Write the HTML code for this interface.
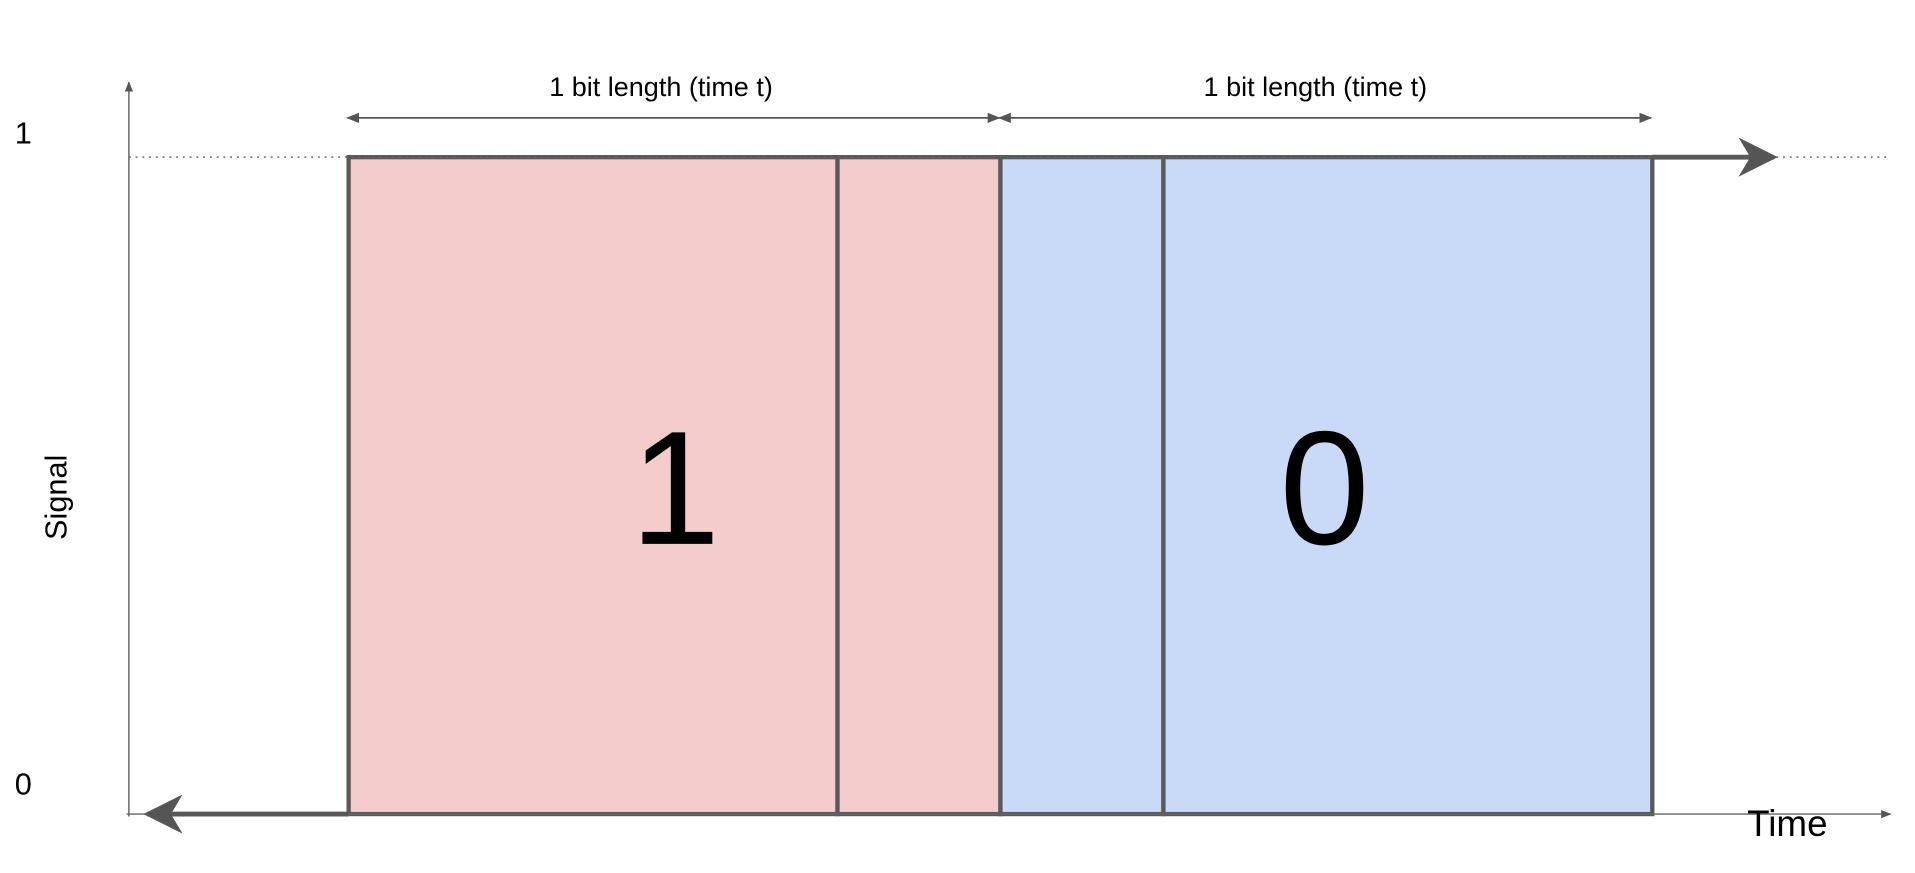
<!DOCTYPE html>
<html><head><meta charset="utf-8"><style>
html,body{margin:0;padding:0;background:#fff;width:1915px;height:873px;overflow:hidden}
svg{display:block}
text{font-family:"Liberation Sans",sans-serif}
</style></head><body>
<svg id="chart" width="1915" height="873" viewBox="0 0 1560 711" preserveAspectRatio="none" xmlns="http://www.w3.org/2000/svg">
<defs>
<marker id="ah" viewBox="0 0 10 10" refX="9" refY="5" markerWidth="8" markerHeight="8" orient="auto-start-reverse"><path d="M0,0 L10,5 L0,10 L3,5 z" fill="#555"/></marker>
<marker id="ahs" viewBox="0 0 10 10" refX="9" refY="5" markerWidth="7" markerHeight="7" orient="auto-start-reverse"><path d="M0,1 L10,5 L0,9 z" fill="#555"/></marker>
</defs>
<g id="plot"></g>
</svg>
<script>
// data
const bitValues = ["1", "0"];
const bitColors = ["#f4cccc", "#c9daf8"];
const segStarts = [0, 0.75, 1, 1.25];
const segEnds = [0.75, 1, 1.25, 2];
const segBit = [0, 0, 1, 1];
const yTickLabels = ["0", "1"];
const yTickValues = [0, 1];
const dimLabel = "1 bit length (time t)";

const NS = "http://www.w3.org/2000/svg";
const g = document.getElementById("plot");
const x = t => 284 + t * 531;
const y = v => 663 - v * 535;
function mk(tag, attrs, parent) {
  const e = document.createElementNS(NS, tag);
  for (const k in attrs) e.setAttribute(k, attrs[k]);
  (parent || g).appendChild(e);
  return e;
}
segStarts.forEach((s, i) => {
  const r = mk("rect", {x: x(s), y: y(1), width: x(segEnds[i]) - x(s), height: y(0) - y(1), fill: bitColors[segBit[i]], stroke: "#595959", "stroke-width": 3.5});
  
  
});
const dl = mk("line", {x1: 105, y1: y(1), x2: 1540, y2: y(1), stroke: "#666", "stroke-width": 1.2, "stroke-dasharray": "1.5,4"});


const ya = mk("line", {x1: 105, y1: 665, x2: 105, y2: 67, stroke: "#666", "stroke-width": 1.2, "marker-end": "url(#ahs)"});


const xa = mk("line", {x1: 103, y1: 663, x2: 1540, y2: 663, stroke: "#666", "stroke-width": 1.2, "marker-end": "url(#ahs)"});


const sl = mk("line", {x1: x(0), y1: y(0), x2: 120, y2: y(0), stroke: "#595959", "stroke-width": 4, "marker-end": "url(#ah)"});


const sr = mk("line", {x1: x(2), y1: y(1), x2: 1445, y2: y(1), stroke: "#595959", "stroke-width": 4, "marker-end": "url(#ah)"});


bitValues.forEach((b, i) => {
  const d = mk("line", {x1: x(i) - 1, y1: 96, x2: x(i + 1) - 1, y2: 96, stroke: "#555", "stroke-width": 1.5, "marker-start": "url(#ahs)", "marker-end": "url(#ahs)"});
  
  
  const t = mk("text", {x: (x(i) + x(i + 1)) / 2 - 11 + i * 2, y: 78, "font-size": 22, "text-anchor": "middle", fill: "#000"});
  t.textContent = dimLabel;
  
  
  const bl = mk("text", {x: i === 0 ? 550 : 1079, y: 443, "font-size": 132, "text-anchor": "middle", fill: "#000"});
  bl.textContent = b;
  
  
});
yTickValues.forEach((v, i) => {
  const t = mk("text", {x: 12, y: y(v) - (v === 1 ? 11 : 16), "font-size": 25, fill: "#000"});
  t.textContent = yTickLabels[i];
  
  
});
const yt = mk("text", {x: 0, y: 0, "font-size": 25, "text-anchor": "middle", transform: "translate(54,405) rotate(-90)", fill: "#000"});
yt.textContent = "Signal";


const xt = mk("text", {x: 1456, y: 681, "font-size": 30, "text-anchor": "middle", fill: "#000"});
xt.textContent = "Time";


</script>
</body></html>
